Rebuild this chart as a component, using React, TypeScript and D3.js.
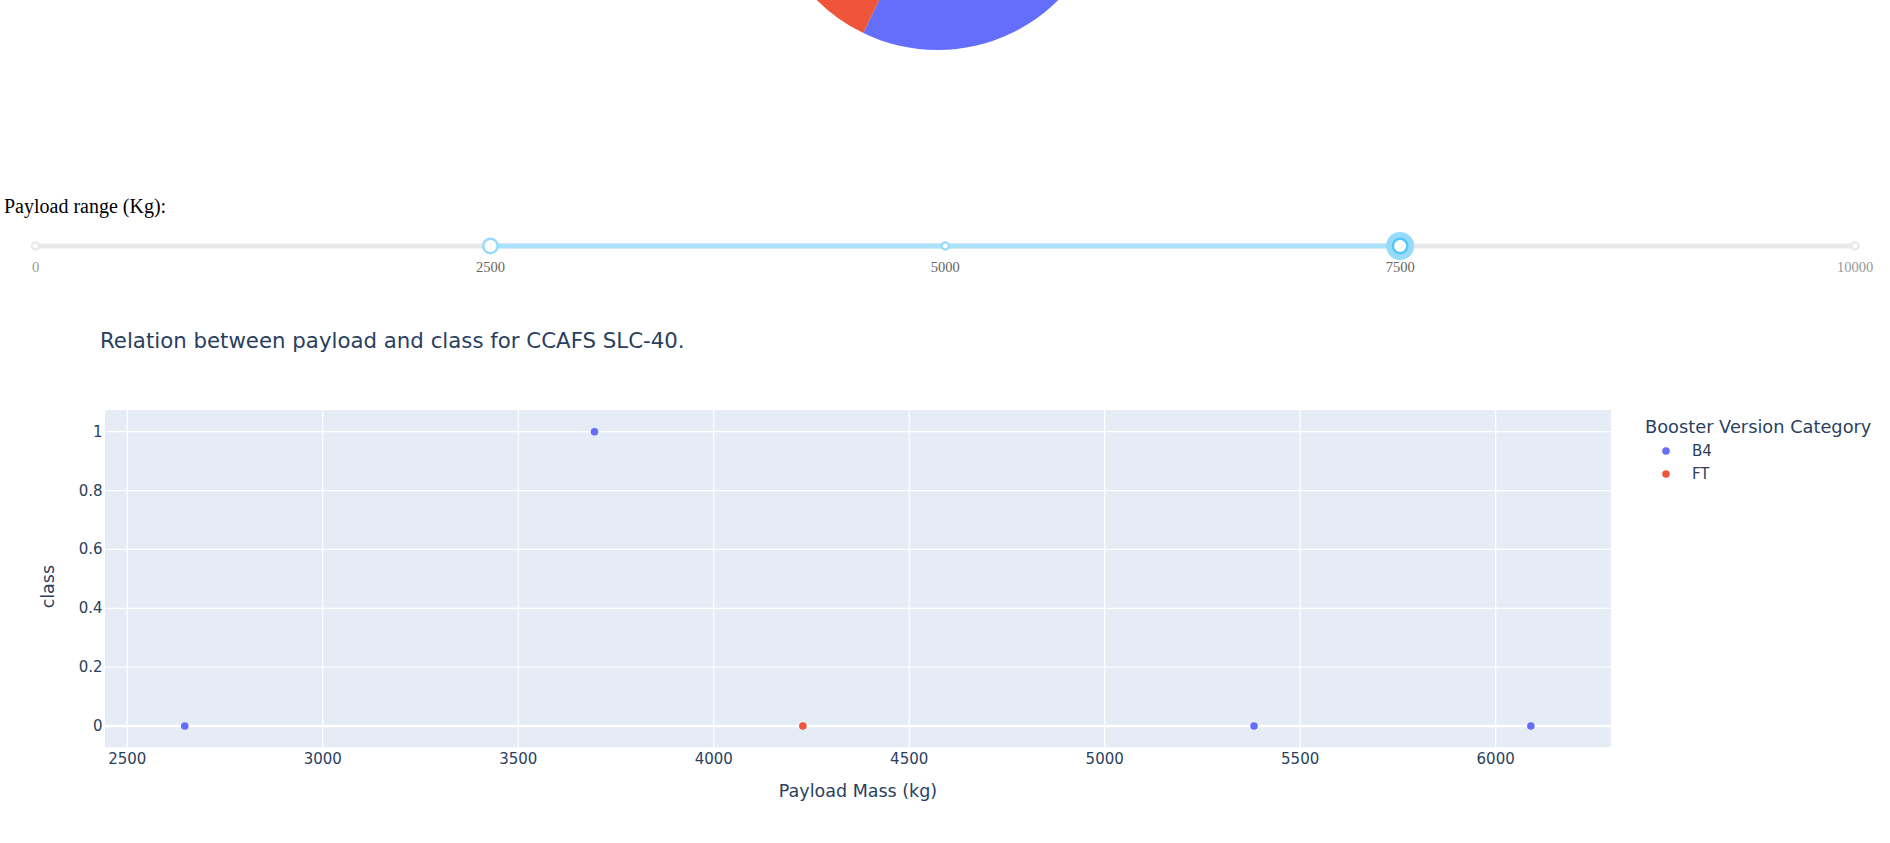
import React, { useEffect, useRef } from "react";
import * as d3 from "d3";

// pie: launch outcome counts for the site
const pieLabels = ["0", "1"];
const pieCounts = [4, 3];
const pieColors = ["#636efa", "#EF553B"];

// slider
const sliderMarks = [0, 2500, 5000, 7500, 10000];
const sliderValue = [2500, 7500];

// scatter: payload vs class
const payloads = [2647, 3695, 4228, 5382, 6090];
const classes = [0, 1, 0, 0, 0];
const boosters = ["B4", "B4", "FT", "B4", "B4"];
const boosterCats = ["B4", "FT"];
const xTicks = [2500, 3000, 3500, 4000, 4500, 5000, 5500, 6000];
const yTicks = [0, 0.2, 0.4, 0.6, 0.8, 1];

const W = 1890;
const H = 843;
const font = "'DejaVu Sans', Verdana, sans-serif";
const ink = "#2a3f5f";

export default function App() {
  const ref = useRef(null);

  useEffect(() => {
    const svg = d3.select(ref.current);
    svg.html("");

    // ---- pie (mostly scrolled out of view)
    const arc: any = d3.arc().innerRadius(0).outerRadius(171);
    const pie = d3.pie<number>().sort(null).value((d) => d);
    svg
      .append("g")
      .attr("transform", "translate(937.5,-121)")
      .selectAll("path")
      .data(pie(pieCounts))
      .join("path")
      .attr("d", arc)
      .attr("fill", (d, i) => pieColors[i])
      .attr("data-label", (d, i) => pieLabels[i]);

    // ---- range slider
    svg
      .append("text")
      .attr("x", 4)
      .attr("y", 205.5)
      .attr("dominant-baseline", "central")
      .style("font-family", "'Liberation Serif', 'Times New Roman', serif")
      .style("font-size", "20px")
      .text("Payload range (Kg):");

    const sx = d3.scaleLinear().domain([0, 10000]).range([35.5, 1855]);
    const sy = 246;
    const inRange = (v: number) => v >= sliderValue[0] && v <= sliderValue[1];
    svg
      .append("line")
      .attr("x1", sx(0))
      .attr("x2", sx(10000))
      .attr("y1", sy)
      .attr("y2", sy)
      .attr("stroke", "#e9e9e9")
      .attr("stroke-width", 5);
    svg
      .append("line")
      .attr("x1", sx(sliderValue[0]))
      .attr("x2", sx(sliderValue[1]))
      .attr("y1", sy)
      .attr("y2", sy)
      .attr("stroke", "#abe2fb")
      .attr("stroke-width", 5);
    svg
      .selectAll("circle.dot")
      .data(sliderMarks)
      .join("circle")
      .attr("class", "dot")
      .attr("cx", (d) => sx(d))
      .attr("cy", sy)
      .attr("r", 3.6)
      .attr("fill", "#fff")
      .attr("stroke", (d) => (inRange(d) ? "#96dbfa" : "#e9e9e9"))
      .attr("stroke-width", 2.2);
    svg
      .selectAll("text.mark")
      .data(sliderMarks)
      .join("text")
      .attr("class", "mark")
      .attr("x", (d) => sx(d))
      .attr("y", 267)
      .attr("text-anchor", "middle")
      .attr("dominant-baseline", "central")
      .style("font-family", "'Liberation Serif', serif")
      .style("font-size", "14.5px")
      .attr("fill", (d) => (inRange(d) ? "#666" : "#999"))
      .text((d) => d);
    // left handle
    svg
      .append("circle")
      .attr("cx", sx(sliderValue[0]))
      .attr("cy", sy)
      .attr("r", 7.2)
      .attr("fill", "#fff")
      .attr("stroke", "#96dbfa")
      .attr("stroke-width", 2.4);
    // right handle, focused
    svg
      .append("circle")
      .attr("cx", sx(sliderValue[1]))
      .attr("cy", sy)
      .attr("r", 14)
      .attr("fill", "#96dbfa");
    svg
      .append("circle")
      .attr("cx", sx(sliderValue[1]))
      .attr("cy", sy)
      .attr("r", 7.2)
      .attr("fill", "#fff")
      .attr("stroke", "#57c5f7")
      .attr("stroke-width", 2.4);

    // ---- scatter
    const left = 105,
      right = 1611,
      top = 410,
      bottom = 747.3;
    const x = d3.scaleLinear().domain([2443, 6295]).range([left, right]);
    const y = d3.scaleLinear().domain([-0.0724, 1.0738]).range([bottom, top]);
    const color = d3.scaleOrdinal<string>().domain(boosterCats).range(["#636efa", "#EF553B"]);

    svg
      .append("text")
      .attr("x", 100)
      .attr("y", 340)
      .attr("dominant-baseline", "central")
      .attr("fill", ink)
      .style("font-family", font)
      .style("font-size", "21.3px")
      .text("Relation between payload and class for CCAFS SLC-40.");

    svg
      .append("rect")
      .attr("x", left)
      .attr("y", top)
      .attr("width", right - left)
      .attr("height", bottom - top)
      .attr("fill", "#E5ECF6");

    const grid = svg.append("g");
    grid
      .selectAll("line.gx")
      .data(xTicks)
      .join("line")
      .attr("x1", (d) => x(d))
      .attr("x2", (d) => x(d))
      .attr("y1", top)
      .attr("y2", bottom)
      .attr("stroke", "#fff")
      .attr("stroke-width", 1.25);
    grid
      .selectAll("line.gy")
      .data(yTicks)
      .join("line")
      .attr("x1", left)
      .attr("x2", right)
      .attr("y1", (d) => y(d))
      .attr("y2", (d) => y(d))
      .attr("stroke", "#fff")
      .attr("stroke-width", (d) => (d === 0 ? 2.5 : 1.25));

    svg
      .append("g")
      .selectAll("text")
      .data(xTicks)
      .join("text")
      .attr("x", (d) => x(d))
      .attr("y", 759)
      .attr("text-anchor", "middle")
      .attr("dominant-baseline", "central")
      .attr("fill", ink)
      .style("font-family", font)
      .style("font-size", "15px")
      .text((d) => d);
    svg
      .append("g")
      .selectAll("text")
      .data(yTicks)
      .join("text")
      .attr("x", 102.5)
      .attr("y", (d) => y(d))
      .attr("text-anchor", "end")
      .attr("dominant-baseline", "central")
      .attr("fill", ink)
      .style("font-family", font)
      .style("font-size", "15px")
      .text((d) => d3.format("~g")(d));

    svg
      .append("text")
      .attr("x", (left + right) / 2)
      .attr("y", 791)
      .attr("text-anchor", "middle")
      .attr("dominant-baseline", "central")
      .attr("fill", ink)
      .style("font-family", font)
      .style("font-size", "17.5px")
      .text("Payload Mass (kg)");
    svg
      .append("text")
      .attr("transform", `translate(48,${(top + bottom) / 2 + 8}) rotate(-90)`)
      .attr("text-anchor", "middle")
      .attr("dominant-baseline", "central")
      .attr("fill", ink)
      .style("font-family", font)
      .style("font-size", "17.5px")
      .text("class");

    svg
      .append("g")
      .selectAll("circle")
      .data(payloads)
      .join("circle")
      .attr("cx", (d) => x(d))
      .attr("cy", (d, i) => y(classes[i]))
      .attr("r", 3.8)
      .attr("fill", (d, i) => color(boosters[i]));

    // legend
    const lg = svg.append("g").style("font-family", font).attr("fill", ink);
    lg.append("text")
      .attr("x", 1645)
      .attr("y", 426.5)
      .attr("dominant-baseline", "central")
      .style("font-size", "17.8px")
      .text("Booster Version Category");
    boosterCats.forEach((c, i) => {
      const ly = 451 + i * 23;
      lg.append("circle").attr("cx", 1666).attr("cy", ly).attr("r", 3.8).attr("fill", color(c));
      lg.append("text")
        .attr("x", 1692)
        .attr("y", ly)
        .attr("dominant-baseline", "central")
        .style("font-size", "15px")
        .text(c);
    });
  }, []);

  return (
    <svg
      ref={ref}
      width={W}
      height={H}
      style={{ position: "absolute", left: 0, top: 0, display: "block", background: "#fff" }}
    ></svg>
  );
}
